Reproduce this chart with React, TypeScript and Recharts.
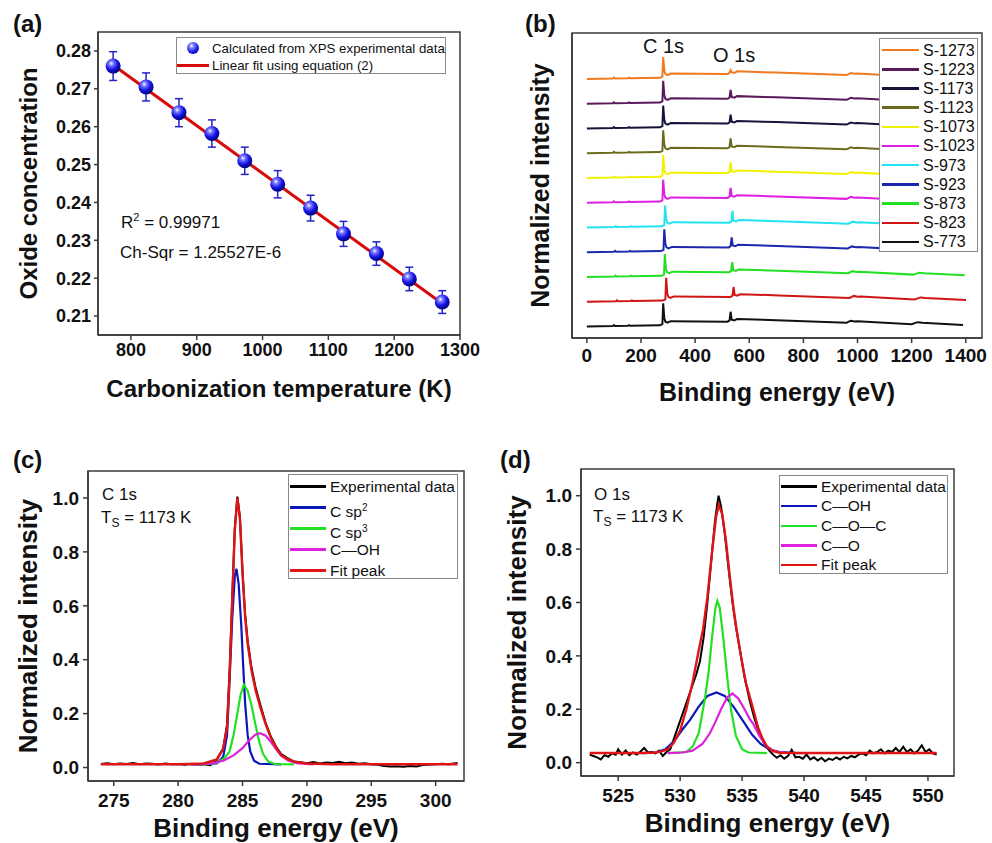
import React from "react";
import {
  ComposedChart,
  LineChart,
  Line,
  Scatter,
  ErrorBar,
  XAxis,
  YAxis,
  Legend,
  Label,
} from "recharts";

const FONT = '"Liberation Sans", Arial, sans-serif';
const INK = "#111";
const FRAME = "#3a3a3a";

// (a) oxide concentration vs carbonization temperature
const carbTemp = [773, 823, 873, 923, 973, 1023, 1073, 1123, 1173, 1223, 1273];
const oxideConc = [0.276, 0.2705, 0.2637, 0.2582, 0.251, 0.2448, 0.2385, 0.2317, 0.2265, 0.2198, 0.2137];
const oxideErr = [0.0038, 0.0037, 0.0037, 0.0036, 0.0036, 0.0036, 0.0034, 0.0033, 0.0031, 0.0031, 0.003];
const fitTemp = [773, 1273];
const fitConc = [0.2763, 0.2133];
const aXTicks = [800, 900, 1000, 1100, 1200, 1300];
const aYTicks = [0.21, 0.22, 0.23, 0.24, 0.25, 0.26, 0.27, 0.28];

// (b) survey spectra, bottom to top
const surveyNames = ["S-773", "S-823", "S-873", "S-923", "S-973", "S-1023", "S-1073", "S-1123", "S-1173", "S-1223", "S-1273"];
const surveyColors = ["#111111", "#d01515", "#22e022", "#1a28b0", "#22e4f0", "#e020e0", "#f2f200", "#6b6b1e", "#14143c", "#5a1a5c", "#f07a20"];
const surveyShift = [0, 11, 6, 4, 7, 0, 0, 0, 0, 0, 0];
const surveyC1s = [0.94, 0.97, 0.93, 0.93, 0.89, 0.93, 0.93, 0.93, 0.93, 0.93, 0.89];
const surveyO1s = [0.6, 0.6, 0.6, 0.6, 0.68, 0.6, 0.64, 0.6, 0.56, 0.56, 0.36];
const surveyEnergy = [0, 96, 100, 104, 151, 155, 159, 270, 279, 282, 286, 290, 298, 310, 520, 527, 531, 535, 545, 555, 700, 960, 975, 990, 1000, 1200, 1222, 1240, 1390];
const surveyShape = [0, 0.02, 0.06, 0.025, 0.03, 0.06, 0.035, 0.05, 0.1, null, 0.35, 0.2, 0.16, 0.22, 0.2, 0.25, null, 0.28, 0.25, 0.31, 0.26, 0.16, 0.24, 0.21, 0.22, 0.1, 0.18, 0.16, 0.07];
const bXTicks = [0, 200, 400, 600, 800, 1000, 1200, 1400];

// (c) C 1s
const cExpE = [274, 274.5, 275, 275.5, 276, 276.5, 277, 277.5, 278, 278.5, 279, 279.5, 280, 280.5, 281, 281.5, 282, 282.5, 283, 283.5, 283.8, 284, 284.2, 284.4, 284.6, 284.8, 285, 285.2, 285.4, 285.7, 286, 286.4, 286.8, 287.2, 287.6, 288, 288.5, 289, 289.5, 290, 290.5, 291, 291.5, 292, 292.5, 293, 293.5, 294, 294.5, 295, 295.5, 296, 296.5, 297, 297.5, 298, 298.5, 299, 299.5, 300, 300.5, 301, 301.7];
const cExpI = [0.013, 0.016, 0.012, 0.015, 0.013, 0.017, 0.012, 0.015, 0.014, 0.011, 0.015, 0.012, 0.013, 0.01, 0.013, 0.011, 0.012, 0.009, 0.028, 0.072, 0.16, 0.36, 0.63, 0.89, 1.005, 0.93, 0.73, 0.57, 0.47, 0.37, 0.3, 0.23, 0.165, 0.115, 0.078, 0.05, 0.035, 0.022, 0.02, 0.016, 0.02, 0.015, 0.019, 0.017, 0.021, 0.016, 0.019, 0.014, 0.016, 0.012, 0.01, 0.006, 0.004, 0.005, 0.003, 0.006, 0.004, 0.009, 0.011, 0.012, 0.014, 0.012, 0.017];
const cFitE = [274, 280, 282, 283, 283.5, 283.8, 284, 284.2, 284.4, 284.6, 284.8, 285, 285.2, 285.4, 285.7, 286, 286.4, 286.8, 287.2, 287.6, 288, 288.5, 289, 290, 292, 301.7];
const cFitI = [0.012, 0.012, 0.015, 0.03, 0.07, 0.15, 0.35, 0.62, 0.88, 1.0, 0.92, 0.72, 0.56, 0.46, 0.36, 0.29, 0.22, 0.16, 0.11, 0.075, 0.045, 0.032, 0.022, 0.015, 0.012, 0.012];
const cSp2E = [281, 283, 283.5, 283.8, 284, 284.2, 284.4, 284.53, 284.7, 284.9, 285.05, 285.2, 285.4, 285.6, 285.9, 286.3, 288];
const cSp2I = [0.012, 0.015, 0.04, 0.12, 0.33, 0.55, 0.71, 0.737, 0.68, 0.53, 0.38, 0.24, 0.12, 0.06, 0.025, 0.014, 0.012];
const cSp3E = [282, 283, 283.6, 284, 284.3, 284.6, 284.85, 285.1, 285.4, 285.7, 286, 286.3, 286.6, 287, 287.5, 289];
const cSp3I = [0.012, 0.018, 0.035, 0.06, 0.12, 0.2, 0.27, 0.307, 0.285, 0.23, 0.16, 0.095, 0.05, 0.022, 0.013, 0.012];
const cOhE = [281, 282.5, 283.5, 284.3, 285, 285.5, 286, 286.35, 286.8, 287.2, 287.6, 288, 288.5, 289.2, 290.5];
const cOhI = [0.012, 0.014, 0.025, 0.045, 0.072, 0.1, 0.122, 0.127, 0.118, 0.095, 0.068, 0.045, 0.027, 0.016, 0.012];
const cXTicks = [275, 280, 285, 290, 295, 300];
const intensityTicks = [0, 0.2, 0.4, 0.6, 0.8, 1.0];

// (d) O 1s
const oExpE = [522.7, 523, 523.3, 523.6, 523.9, 524.2, 524.5, 524.8, 525, 525.3, 525.6, 525.9, 526.2, 526.5, 526.8, 527.1, 527.4, 527.7, 528, 528.3, 528.6, 528.9, 529.2, 529.5, 529.8, 530.1, 530.4, 530.7, 531, 531.3, 531.6, 531.9, 532.2, 532.5, 532.8, 533, 533.1, 533.3, 533.6, 533.9, 534.2, 534.5, 534.8, 535.2, 535.6, 536, 536.4, 536.8, 537.2, 537.5, 537.8, 538.1, 538.4, 538.7, 539, 539.3, 539.6, 539.9, 540.2, 540.5, 540.8, 541.1, 541.4, 541.7, 542, 542.3, 542.6, 542.9, 543.2, 543.5, 543.8, 544.1, 544.4, 544.7, 545, 545.3, 545.6, 545.9, 546.2, 546.5, 546.8, 547.1, 547.4, 547.7, 548, 548.3, 548.6, 548.9, 549.2, 549.5, 549.8, 550.1, 550.4, 550.7];
const oExpI = [0.03, 0.025, 0.02, 0.012, 0.028, 0.022, 0.035, 0.03, 0.05, 0.03, 0.045, 0.028, 0.038, 0.03, 0.042, 0.055, 0.038, 0.04, 0.035, 0.045, 0.025, 0.04, 0.05, 0.09, 0.13, 0.17, 0.21, 0.25, 0.29, 0.33, 0.38, 0.47, 0.6, 0.75, 0.9, 0.97, 1.0, 0.96, 0.86, 0.73, 0.61, 0.51, 0.43, 0.32, 0.235, 0.165, 0.11, 0.07, 0.045, 0.03, 0.018, 0.028, 0.015, 0.025, 0.048, 0.02, 0.022, 0.015, 0.03, 0.012, 0.02, 0.008, 0.018, 0.005, 0.015, 0.01, 0.02, 0.012, 0.022, 0.016, 0.025, 0.02, 0.03, 0.035, 0.028, 0.045, 0.035, 0.04, 0.05, 0.035, 0.045, 0.04, 0.055, 0.04, 0.06, 0.04, 0.05, 0.035, 0.045, 0.065, 0.04, 0.05, 0.035, 0.03];
const oFitE = [522.7, 527, 528, 528.5, 529, 529.5, 530, 530.5, 531, 531.5, 531.85, 532.2, 532.6, 532.9, 533.12, 533.4, 533.7, 534, 534.3, 534.55, 534.9, 535.3, 535.9, 536.3, 536.6, 537, 537.5, 538, 540, 550.7];
const oFitI = [0.036, 0.036, 0.038, 0.042, 0.05, 0.075, 0.12, 0.2, 0.3, 0.42, 0.5, 0.62, 0.8, 0.92, 0.966, 0.93, 0.83, 0.7, 0.58, 0.5, 0.4, 0.3, 0.2, 0.13, 0.095, 0.06, 0.043, 0.037, 0.036, 0.036];
const oOhE = [527, 528, 528.8, 529.5, 530.2, 530.8, 531.5, 532.2, 532.93, 533.6, 534.3, 535.1, 535.8, 536.5, 537.2, 538, 539.5];
const oOhI = [0.036, 0.038, 0.05, 0.08, 0.125, 0.16, 0.21, 0.25, 0.263, 0.25, 0.21, 0.155, 0.105, 0.07, 0.05, 0.04, 0.036];
const oCocE = [529, 530.5, 531, 531.5, 532, 532.3, 532.6, 532.85, 533, 533.2, 533.5, 533.8, 534.1, 534.5, 535, 535.5, 537];
const oCocI = [0.036, 0.04, 0.06, 0.11, 0.24, 0.34, 0.48, 0.58, 0.606, 0.58, 0.46, 0.32, 0.2, 0.1, 0.05, 0.038, 0.036];
const oCoE = [529, 530.2, 531, 531.8, 532.4, 532.8, 533.3, 533.8, 534.22, 534.7, 535.2, 535.6, 535.9, 536.4, 536.9, 537.5, 538.3, 540];
const oCoI = [0.036, 0.038, 0.045, 0.07, 0.11, 0.148, 0.2, 0.245, 0.259, 0.24, 0.2, 0.165, 0.145, 0.1, 0.065, 0.045, 0.037, 0.036];
const dXTicks = [525, 530, 535, 540, 545, 550];

const zip = (xs: number[], ys: number[]) => xs.map((x, i) => ({ x, y: ys[i] }));

const tickStyle = (size: number) => ({ fill: INK, fontSize: size, fontWeight: 700, fontFamily: FONT });
const titleStyle = (size: number) => ({ fill: INK, fontSize: size, fontWeight: 700, fontFamily: FONT, textAnchor: "middle" as const });

function Sphere(props: any) {
  const { cx, cy } = props;
  if (cx == null || cy == null) return null;
  return (
    <g>
      <defs>
        <radialGradient id="sphereFill" cx="0.38" cy="0.32" r="0.7">
          <stop offset="0%" stopColor="#ffffff" />
          <stop offset="22%" stopColor="#7a7aff" />
          <stop offset="60%" stopColor="#1414e6" />
          <stop offset="100%" stopColor="#00006e" />
        </radialGradient>
      </defs>
      <circle cx={cx} cy={cy} r={7.5} fill="url(#sphereFill)" />
    </g>
  );
}

type Item = { label: React.ReactNode; color: string; marker?: "sphere" };

function LegendBox({ items, width, height, rowH, padTop, lineFrom, lineTo, textX, fontSize, lineW }: {
  items: Item[]; width: number; height: number; rowH: number; padTop: number;
  lineFrom: number; lineTo: number; textX: number; fontSize: number; lineW: number;
}) {
  return (
    <div style={{ width, height, boxSizing: "border-box", border: "1px solid #8a8a8a", background: "#fff", paddingTop: padTop, fontFamily: FONT, fontSize, color: INK }}>
      {items.map((it, i) => (
        <div key={i} style={{ position: "relative", height: rowH }}>
          {it.marker === "sphere" ? (
            <div style={{ position: "absolute", left: (lineFrom + lineTo) / 2 - 6, top: rowH / 2 - 6, width: 12, height: 12, borderRadius: 6, background: "radial-gradient(circle at 38% 32%, #fff 0%, #7a7aff 22%, #1414e6 60%, #00006e 100%)" }} />
          ) : (
            <div style={{ position: "absolute", left: lineFrom, width: lineTo - lineFrom, top: rowH / 2 - lineW / 2, height: lineW, background: it.color }} />
          )}
          <div style={{ position: "absolute", left: textX, top: 0, height: rowH, lineHeight: rowH + "px", whiteSpace: "nowrap" }}>{it.label}</div>
        </div>
      ))}
    </div>
  );
}

function PanelA() {
  const pts = carbTemp.map((t, i) => ({ x: t, y: oxideConc[i], err: oxideErr[i] }));
  const fit = zip(fitTemp, fitConc);
  const items: Item[] = [
    { label: "Calculated from XPS experimental data", color: "#1414e6", marker: "sphere" },
    { label: "Linear fit using equation (2)", color: "#d80a0a" },
  ];
  return (
    <div style={{ position: "absolute", left: 0, top: 0 }}>
      <ComposedChart width={490} height={420} margin={{ top: 32, right: 30, bottom: 45, left: 18 }}>
        <XAxis dataKey="x" type="number" domain={[750, 1300]} ticks={aXTicks} allowDataOverflow height={40} tickSize={5} tickMargin={3} stroke={FRAME} strokeWidth={1.5} tick={tickStyle(18)}>
          <Label value="Carbonization temperature (K)" position="bottom" offset={5} style={titleStyle(24)} />
        </XAxis>
        <YAxis type="number" domain={[0.205, 0.285]} ticks={aYTicks} allowDataOverflow width={80} tickSize={4} tickMargin={3} stroke={FRAME} strokeWidth={1.5} tick={tickStyle(18)} tickFormatter={(v: number) => v.toFixed(2)}>
          <Label value="Oxide concentration" angle={-90} position="insideLeft" offset={10} style={titleStyle(24)} />
        </YAxis>
        <Scatter data={pts} dataKey="y" shape={<Sphere />} isAnimationActive={false}>
          <ErrorBar dataKey="err" direction="y" width={4} stroke="#2323c8" strokeWidth={1.5} />
        </Scatter>
        <Line data={fit} dataKey="y" type="linear" stroke="#d80a0a" strokeWidth={3} dot={false} isAnimationActive={false} />
        <Legend layout="horizontal" verticalAlign="middle" align="center" wrapperStyle={{ left: 176, top: 37, width: 270 }}
          content={() => <LegendBox items={items} width={270} height={37} rowH={17.3} padTop={1.5} lineFrom={0} lineTo={32} textX={35} fontSize={13.3} lineW={3} />} />
      </ComposedChart>
    </div>
  );
}

function PanelB() {
  const series = surveyNames.map((name, k) => ({
    name,
    color: surveyColors[k],
    data: surveyEnergy.map((e, j) => {
      const base = surveyShape[j] === null ? (e < 400 ? surveyC1s[k] : surveyO1s[k]) : (surveyShape[j] as number);
      return { x: e === 0 ? 0 : e + surveyShift[k], y: k + base };
    }),
  }));
  const items: Item[] = series.slice().reverse().map((s) => ({ label: s.name, color: s.color }));
  return (
    <div style={{ position: "absolute", left: 490, top: 0 }}>
      <LineChart width={502} height={420} margin={{ top: 33, right: 10, bottom: 42, left: 20 }}>
        <XAxis dataKey="x" type="number" domain={[-55, 1460]} ticks={bXTicks} allowDataOverflow height={40} tickSize={5} tickMargin={6} stroke={FRAME} strokeWidth={1.5} tick={tickStyle(19)}>
          <Label value="Binding energy (eV)" position="bottom" offset={5} style={titleStyle(25)} />
        </XAxis>
        <YAxis type="number" domain={[-0.46, 11.86]} allowDataOverflow tick={false} tickLine={false} width={62} stroke={FRAME} strokeWidth={1.5}>
          <Label value="Normalized intensity" angle={-90} position="insideLeft" offset={30} style={titleStyle(25)} />
        </YAxis>
        {series.map((s) => (
          <Line key={s.name} name={s.name} data={s.data} dataKey="y" type="linear" stroke={s.color} strokeWidth={2} dot={false} isAnimationActive={false} />
        ))}
        <Legend layout="horizontal" verticalAlign="middle" align="center" wrapperStyle={{ left: 389, top: 38, width: 99 }}
          content={() => <LegendBox items={items} width={99} height={214} rowH={19.2} padTop={1.5} lineFrom={2} lineTo={39} textX={43} fontSize={16} lineW={2.5} />} />
      </LineChart>
    </div>
  );
}

function PeakPanel({ left, top, width, margin, domainX, ticksX, yAxisW, ylabelOff, curves, items, legendPos, legendSize, rowH }: any) {
  return (
    <div style={{ position: "absolute", left, top }}>
      <LineChart width={width} height={423} margin={margin}>
        <XAxis dataKey="x" type="number" domain={domainX} ticks={ticksX} allowDataOverflow height={35} tickSize={5} tickMargin={8} stroke={FRAME} strokeWidth={1.5} tick={tickStyle(19)}>
          <Label value="Binding energy (eV)" position="bottom" offset={3} style={titleStyle(26)} />
        </XAxis>
        <YAxis type="number" domain={[-0.05, 1.1]} ticks={intensityTicks} allowDataOverflow width={yAxisW} tickSize={5} tickMargin={4} stroke={FRAME} strokeWidth={1.5} tick={tickStyle(19)} tickFormatter={(v: number) => v.toFixed(1)}>
          <Label value="Normalized intensity" angle={-90} position="insideLeft" offset={ylabelOff} style={titleStyle(26)} />
        </YAxis>
        {curves.map((c: any) => (
          <Line key={c.name} name={c.name} data={c.data} dataKey="y" type="linear" stroke={c.color} strokeWidth={c.w} dot={false} isAnimationActive={false} />
        ))}
        <Legend layout="horizontal" verticalAlign="middle" align="center" wrapperStyle={{ left: legendPos[0], top: legendPos[1], width: legendSize[0] }}
          content={() => <LegendBox items={items} width={legendSize[0]} height={legendSize[1]} rowH={rowH} padTop={0.8} lineFrom={1} lineTo={37} textX={41} fontSize={15.5} lineW={2.5} />} />
      </LineChart>
    </div>
  );
}

const DASH = "\u2014";

function PanelC() {
  const curves = [
    { name: "exp", data: zip(cExpE, cExpI), color: "#000", w: 2 },
    { name: "sp2", data: zip(cSp2E, cSp2I), color: "#0b18b8", w: 2.2 },
    { name: "sp3", data: zip(cSp3E, cSp3I), color: "#22e022", w: 2.2 },
    { name: "oh", data: zip(cOhE, cOhI), color: "#dd22dd", w: 2.2 },
    { name: "fit", data: zip(cFitE, cFitI), color: "#e01414", w: 2.4 },
  ];
  const items: Item[] = [
    { label: "Experimental data", color: "#000" },
    { label: <span>C sp<sup style={{ fontSize: 10 }}>2</sup></span>, color: "#0b18b8" },
    { label: <span>C sp<sup style={{ fontSize: 10 }}>3</sup></span>, color: "#22e022" },
    { label: "C" + DASH + "OH", color: "#dd22dd" },
    { label: "Fit peak", color: "#e01414" },
  ];
  return (
    <PeakPanel left={0} top={420} width={490} margin={{ top: 51, right: 26, bottom: 27, left: 18 }}
      domainX={[273, 302.2]} ticksX={cXTicks} yAxisW={70} ylabelOff={10} curves={curves} items={items}
      legendPos={[288, 54]} legendSize={[170, 105]} rowH={21} />
  );
}

function PanelD() {
  const curves = [
    { name: "exp", data: zip(oExpE, oExpI), color: "#000", w: 2 },
    { name: "oh", data: zip(oOhE, oOhI), color: "#0b18b8", w: 2.2 },
    { name: "coc", data: zip(oCocE, oCocI), color: "#22e022", w: 2.2 },
    { name: "co", data: zip(oCoE, oCoI), color: "#dd22dd", w: 2.2 },
    { name: "fit", data: zip(oFitE, oFitI), color: "#e01414", w: 2.4 },
  ];
  const items: Item[] = [
    { label: "Experimental data", color: "#000" },
    { label: "C" + DASH + "OH", color: "#0b18b8" },
    { label: "C" + DASH + "O" + DASH + "C", color: "#22e022" },
    { label: "C" + DASH + "O", color: "#dd22dd" },
    { label: "Fit peak", color: "#e01414" },
  ];
  return (
    <PeakPanel left={490} top={420} width={502} margin={{ top: 49, right: 38, bottom: 32, left: 21 }}
      domainX={[522, 552.1]} ticksX={dXTicks} yAxisW={70} ylabelOff={6} curves={curves} items={items}
      legendPos={[289, 55]} legendSize={[169, 99]} rowH={19.6} />
  );
}

// plot-area frames and free text
function Annotations() {
  const t = { fontFamily: FONT, fill: INK };
  const boxes = [
    [98, 32, 362, 303],
    [572, 33, 410, 305],
    [88, 471, 376, 310],
    [581, 469, 373, 307],
  ];
  return (
    <svg width={992} height={843} style={{ position: "absolute", left: 0, top: 0, pointerEvents: "none" }}>
      {boxes.map(([x, y, w, h], i) => (
        <rect key={i} x={x} y={y} width={w} height={h} fill="none" stroke={FRAME} strokeWidth={1.5} />
      ))}
      <text x={13} y={32} fontSize={24} fontWeight={700} {...t}>(a)</text>
      <text x={525} y={32} fontSize={24} fontWeight={700} {...t}>(b)</text>
      <text x={13} y={468} fontSize={24} fontWeight={700} {...t}>(c)</text>
      <text x={500} y={468} fontSize={24} fontWeight={700} {...t}>(d)</text>
      <text x={121} y={228} fontSize={17} {...t}>R<tspan dy={-7} fontSize={11}>2</tspan><tspan dy={7}> = 0.99971</tspan></text>
      <text x={120} y={258} fontSize={17} {...t}>Ch-Sqr = 1.25527E-6</text>
      <text x={643} y={53} fontSize={20} {...t}>C 1s</text>
      <text x={713} y={62} fontSize={20} {...t}>O 1s</text>
      <text x={102} y={500} fontSize={17} {...t}>C 1s</text>
      <text x={101} y={523} fontSize={17} {...t}>T<tspan dy={4} fontSize={12}>S</tspan><tspan dy={-4}> = 1173 K</tspan></text>
      <text x={594} y={500} fontSize={17} {...t}>O 1s</text>
      <text x={593} y={522} fontSize={17} {...t}>T<tspan dy={4} fontSize={12}>S</tspan><tspan dy={-4}> = 1173 K</tspan></text>
    </svg>
  );
}

export default function App() {
  return (
    <div style={{ position: "absolute", left: 0, top: 0, width: 992, height: 843, background: "#fff", fontFamily: FONT }}>
      <PanelA />
      <PanelB />
      <PanelC />
      <PanelD />
      <Annotations />
    </div>
  );
}
